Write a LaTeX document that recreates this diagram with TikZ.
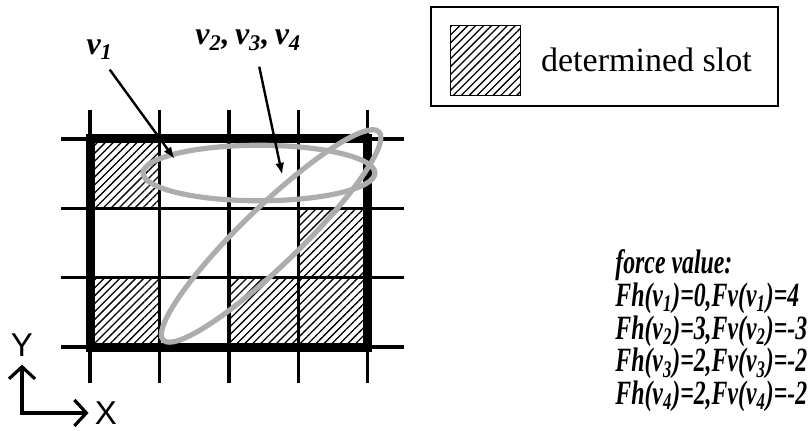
\documentclass[tikz,border=0pt]{standalone}
\usepackage{fontspec}
\setmainfont{Liberation Serif}
\setsansfont{Liberation Sans}
\newfontfamily\forcefont[FakeStretch=0.7]{Liberation Serif}
\usetikzlibrary{arrows.meta,positioning,patterns.meta}
\definecolor{GroupGray}{HTML}{ADADAD}
\tikzset{every node/.style={inner sep=1pt},
 slot/.style={pattern={Lines[angle=45,distance=2.8pt,line width=0.65pt]}},
 pointer/.style={-{Latex[length=6pt,width=4.5pt]},line width=1.2pt},
 axis/.style={{Straight Barb[length=6pt,width=13pt]}-{Straight Barb[length=6pt,width=13pt]},
 line width=1.6pt}}
\newcommand{\vx}[1]{v\textsubscript{#1}}

\begin{document}
\begin{tikzpicture}[x=34.7pt,y=34.7pt,
 sgrid/.style={line width=1.7pt},
 sframe/.style={line width=4.5pt},
 sgroup/.style={draw=GroupGray,line width=2.6pt},
 vlabel/.style={font=\fontsize{16}{16}\selectfont\bfseries\itshape},
 xylabel/.style={font=\sffamily\fontsize{16.5}{16.5}\selectfont}]
\useasboundingbox (-1.297,-1.196) rectangle (10.389,5);
% Determined slots are hatched first, the grid goes on top.
\foreach \i/\j in {0/2,3/1,0/0,2/0,3/0}
 {\fill[slot] (\i,\j) rectangle ++(1,1);}
\foreach \x in {0,1,2,3,4}
 {\draw[sgrid] (\x,-.52)--(\x,3.42);}
\foreach \y in {0,1,2,3}
 {\draw[sgrid] (-.42,\y)--(4.52,\y);}
\draw[sframe] (0,0) rectangle (4,3);
% Hand-drawn groups, approximated by ellipses.
\draw[sgroup] (2.435,2.507) ellipse [x radius=1.67,y radius=.40];
\draw[sgroup,rotate around={44:(2.61,1.60)}]
 (2.61,1.60) ellipse [x radius=2.16,y radius=.42];
% Labels pointing into the groups.
\node[vlabel] (lv1) at (.14,4.29) {\vx1};
\node[vlabel] (lv234) at (2.28,4.42) {\vx2,\,\vx3,\,\vx4};
\coordinate (t1) at (1.22,2.71);
\coordinate (t234) at (2.77,2.48);
\draw[pointer] ([shift={(5pt,-4pt)}]lv1.south) -- (t1);
\draw[pointer] ([shift={(5.5pt,-7pt)}]lv234.south) -- (t234);
% Legend.
\node[draw,line width=.9pt,minimum width=173.5pt,minimum height=49.6pt]
 (legend) at (7.41,4.185) {};
\node[draw,slot,line width=.5pt,minimum size=35pt] (lsq) at (5.695,4.135) {};
\node[right=9pt of lsq,font=\fontsize{17}{17}\selectfont] (ltext)
 {determined slot};
% Force values.
\node[anchor=north west,align=left,
 font=\forcefont\fontsize{17}{15}\selectfont\bfseries\itshape] (force) at (7.536,1.44)
 {force value:\\
 Fh(\vx1)=0,Fv(\vx1)=4\\
 Fh(\vx2)=3,Fv(\vx2)=-3\\
 Fh(\vx3)=2,Fv(\vx3)=-2\\
 Fh(\vx4)=2,Fv(\vx4)=-2};
% Axes.
\node[xylabel] (ylab) at (-.98,.03) {Y};
\node[xylabel] (xlab) at (.23,-.95) {X};
\draw[axis,shorten <=3pt,shorten >=2pt] (ylab.south) |- (xlab.west);
\end{tikzpicture}
\end{document}
